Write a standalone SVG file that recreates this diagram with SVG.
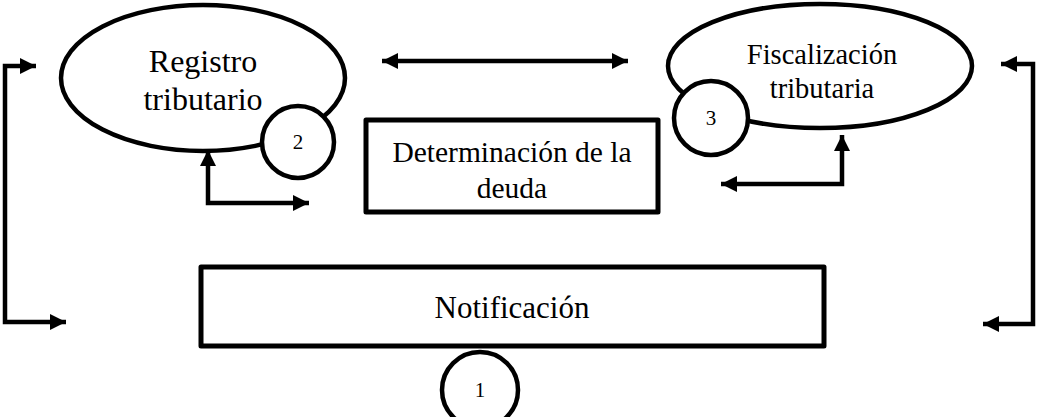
<svg xmlns="http://www.w3.org/2000/svg" width="1038" height="417" viewBox="0 0 1038 417">
<defs>
<style>
.shape{fill:#fff;stroke:#000;stroke-width:4.5}
.box{fill:#fff;stroke:#000;stroke-width:5;stroke-linejoin:round}
.t{font-family:"Liberation Serif","Times New Roman",serif;fill:#000;text-anchor:middle}
.conn{fill:none;stroke:#000;stroke-width:4.5}
</style>
<marker id="ah" viewBox="0 0 16 16" refX="16" refY="8" markerWidth="16" markerHeight="16" markerUnits="userSpaceOnUse" orient="auto-start-reverse">
<path d="M0,0 L16,8 L0,16 Z" fill="#000"/>
</marker>
</defs>
<rect width="1038" height="417" fill="#fff"/>
<g id="connectors">
<polyline class="conn" points="36,66 5,66 5,322 66,322" marker-start="url(#ah)" marker-end="url(#ah)"/>
<polyline class="conn" points="1001,64 1033,64 1033,324 983,324" marker-start="url(#ah)" marker-end="url(#ah)"/>
<line class="conn" x1="382" y1="61" x2="628" y2="61" marker-start="url(#ah)" marker-end="url(#ah)"/>
<polyline class="conn" points="208,150 208,203 309,203" marker-start="url(#ah)" marker-end="url(#ah)"/>
<polyline class="conn" points="842,135 842,184 721,184" marker-start="url(#ah)" marker-end="url(#ah)"/>
</g>
<g id="registro">
<ellipse class="shape" cx="203" cy="78" rx="142" ry="73"/>
<text class="t" x="203" y="72" font-size="32">Registro</text>
<text class="t" x="203" y="110" font-size="32">tributario</text>
</g>
<g id="badge2">
<circle class="shape" cx="298" cy="142" r="36"/>
<text class="t" x="298" y="149" font-size="21">2</text>
</g>
<g id="fiscalizacion">
<ellipse class="shape" cx="820" cy="66" rx="152" ry="62"/>
<text class="t" x="822" y="64" font-size="28.5">Fiscalización</text>
<text class="t" x="822" y="98" font-size="28.5">tributaria</text>
</g>
<g id="badge3">
<circle class="shape" cx="711" cy="118" r="37"/>
<text class="t" x="711" y="125" font-size="21">3</text>
</g>
<g id="determinacion">
<rect class="box" x="366" y="120" width="292" height="92"/>
<text class="t" x="512" y="162" font-size="29.5">Determinación de la</text>
<text class="t" x="512" y="198" font-size="29.5">deuda</text>
</g>
<g id="notificacion">
<rect class="box" x="201" y="267" width="623" height="79"/>
<text class="t" x="512" y="318" font-size="31">Notificación</text>
</g>
<g id="badge1">
<circle class="shape" cx="480" cy="390" r="38"/>
<text class="t" x="480" y="397" font-size="21">1</text>
</g>
</svg>
